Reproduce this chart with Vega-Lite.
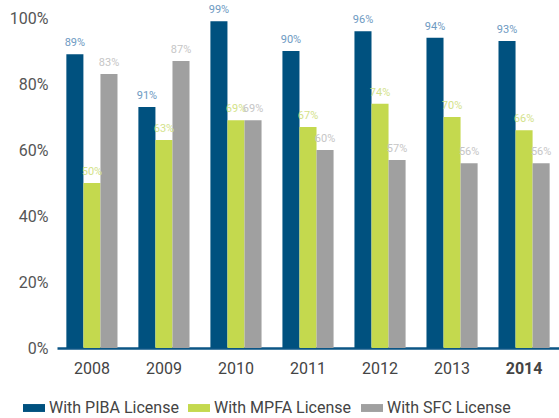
{
  "$schema": "https://vega.github.io/schema/vega-lite/v6.json",
  "width": 502,
  "height": 330,
  "autosize": {"type": "none"},
  "padding": {"left": 57, "top": 18, "right": 0, "bottom": 70},
  "background": "white",
  "config": {"view": {"stroke": null}, "font": "Roboto"},
  "data": {"values": [
    {"year": "2008", "series": "With PIBA License", "value": 89, "label": "89%"},
    {"year": "2008", "series": "With MPFA License", "value": 50, "label": "50%"},
    {"year": "2008", "series": "With SFC License", "value": 83, "label": "83%"},
    {"year": "2009", "series": "With PIBA License", "value": 73, "label": "91%"},
    {"year": "2009", "series": "With MPFA License", "value": 63, "label": "63%"},
    {"year": "2009", "series": "With SFC License", "value": 87, "label": "87%"},
    {"year": "2010", "series": "With PIBA License", "value": 99, "label": "99%"},
    {"year": "2010", "series": "With MPFA License", "value": 69, "label": "69%"},
    {"year": "2010", "series": "With SFC License", "value": 69, "label": "69%"},
    {"year": "2011", "series": "With PIBA License", "value": 90, "label": "90%"},
    {"year": "2011", "series": "With MPFA License", "value": 67, "label": "67%"},
    {"year": "2011", "series": "With SFC License", "value": 60, "label": "60%"},
    {"year": "2012", "series": "With PIBA License", "value": 96, "label": "96%"},
    {"year": "2012", "series": "With MPFA License", "value": 74, "label": "74%"},
    {"year": "2012", "series": "With SFC License", "value": 57, "label": "57%"},
    {"year": "2013", "series": "With PIBA License", "value": 94, "label": "94%"},
    {"year": "2013", "series": "With MPFA License", "value": 70, "label": "70%"},
    {"year": "2013", "series": "With SFC License", "value": 56, "label": "56%"},
    {"year": "2014", "series": "With PIBA License", "value": 93, "label": "93%"},
    {"year": "2014", "series": "With MPFA License", "value": 66, "label": "66%"},
    {"year": "2014", "series": "With SFC License", "value": 56, "label": "56%"}
  ]},
  "encoding": {
    "x": {"field": "year", "type": "ordinal", "title": null,
      "scale": {"paddingInner": 0.29, "paddingOuter": 0.13},
      "axis": {"labelAngle": 0, "ticks": false, "domainColor": "#0b5585", "domainWidth": 2.5,
        "labelFontSize": 16, "labelColor": "#444444", "labelPadding": 12,
        "labelFontWeight": {"condition": {"test": "datum.value == '2014'", "value": "bold"}, "value": "normal"}}},
    "xOffset": {"field": "series", "type": "nominal",
      "sort": ["With PIBA License", "With MPFA License", "With SFC License"]},
    "y": {"field": "value", "type": "quantitative", "title": null,
      "scale": {"domain": [0, 100], "nice": false},
      "axis": {"values": [0, 20, 40, 60, 80, 100], "labelExpr": "datum.value + '%'", "grid": false,
        "domain": false, "ticks": false, "labelFontSize": 16, "labelColor": "#555555", "labelPadding": 9}}
  },
  "layer": [
    {"mark": {"type": "bar"},
      "encoding": {"color": {"field": "series", "type": "nominal",
        "sort": ["With PIBA License", "With MPFA License", "With SFC License"],
        "scale": {"domain": ["With PIBA License", "With MPFA License", "With SFC License"], "range": ["#00517f", "#c4d94e", "#a0a0a0"]},
        "legend": {"title": null, "orient": "none", "direction": "horizontal", "legendX": -34, "legendY": 379,
          "symbolType": "M-1,-0.36L1,-0.36L1,0.36L-1,0.36Z", "symbolSize": 484, "symbolStrokeWidth": 0,
          "labelFontSize": 16, "labelColor": "#444444", "labelOffset": 4, "columnPadding": 9}}}},
    {"mark": {"type": "text", "baseline": "bottom", "dy": -6, "fontSize": 11},
      "encoding": {"text": {"field": "label"},
        "color": {"field": "series", "type": "nominal",
          "scale": {"domain": ["With PIBA License", "With MPFA License", "With SFC License"], "range": ["#6e9ac2", "#d3e28a", "#c6c6c6"]},
          "legend": null}}}
  ],
  "resolve": {"scale": {"color": "independent"}}
}
